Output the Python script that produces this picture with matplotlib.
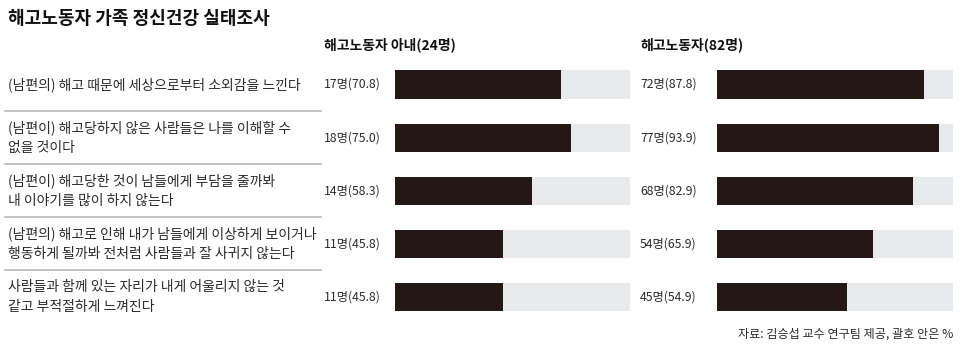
import matplotlib
matplotlib.use("Agg")
import matplotlib.pyplot as plt
from matplotlib.transforms import blended_transform_factory
from matplotlib.lines import Line2D

plt.rcParams["font.family"] = ["Noto Sans CJK KR", "DejaVu Sans"]

title = "해고노동자 가족 정신건강 실태조사"
source = "자료: 김승섭 교수 연구팀 제공, 괄호 안은 %"

questions = [
    "(남편의) 해고 때문에 세상으로부터 소외감을 느낀다",
    "(남편이) 해고당하지 않은 사람들은 나를 이해할 수\n없을 것이다",
    "(남편이) 해고당한 것이 남들에게 부담을 줄까봐\n내 이야기를 많이 하지 않는다",
    "(남편의) 해고로 인해 내가 남들에게 이상하게 보이거나\n행동하게 될까봐 전처럼 사람들과 잘 사귀지 않는다",
    "사람들과 함께 있는 자리가 내게 어울리지 않는 것\n같고 부적절하게 느껴진다",
]

wife_title = "해고노동자 아내(24명)"
wife_count = [17, 18, 14, 11, 11]
wife_pct = [70.8, 75.0, 58.3, 45.8, 45.8]

worker_title = "해고노동자(82명)"
worker_count = [72, 77, 68, 54, 45]
worker_pct = [87.8, 93.9, 82.9, 65.9, 54.9]

W, H = 970, 351
BAR = "#231815"
TRACK = "#e8e9eb"
TXT = "#2b2b2b"

fig = plt.figure(figsize=(W / 100, H / 100), dpi=100)


def fx(px):
    return px / W


def fy(py):
    return 1 - py / H


# rows: first centre ~84.5px, pitch ~53.1px
top = 84.5 - 26.55
bottom = 297.0 + 26.55


def panel(left_px, width_px, label_px, head, counts, pcts):
    ax = fig.add_axes([fx(left_px), fy(bottom), width_px / W, (bottom - top) / H])
    ys = list(range(len(pcts)))
    ax.barh(ys, [100] * len(pcts), height=0.53, color=TRACK)
    ax.barh(ys, pcts, height=0.53, color=BAR)
    ax.set_xlim(0, 100)
    ax.set_ylim(len(pcts) - 0.5, -0.5)
    ax.axis("off")
    tr = blended_transform_factory(fig.transFigure, ax.transData)
    for y, c, p in zip(ys, counts, pcts):
        ax.text(fx(label_px), y, f"{c}명({p:.1f})", transform=tr,
                ha="left", va="center", fontsize=8.8, color=TXT)
    fig.text(fx(label_px), fy(45), head, ha="left", va="center",
             fontsize=10, fontweight="bold", color="#111111")
    return ax, tr


ax1, tr1 = panel(395, 235, 324, wife_title, wife_count, wife_pct)
panel(717, 236, 640, worker_title, worker_count, worker_pct)

for i, q in enumerate(questions):
    ax1.text(fx(8), i, q, transform=tr1, ha="left", va="center",
             fontsize=10, color=TXT, linespacing=1.5)
    if i < len(questions) - 1:
        fig.add_artist(Line2D([fx(5), fx(321)], [i + 0.5, i + 0.5],
                              transform=tr1, color="#b8b8b8", lw=1.2))

fig.text(fx(8), fy(18), title, ha="left", va="center",
         fontsize=13, fontweight="bold", color="#111111")
fig.text(fx(953), fy(334), source, ha="right", va="center",
         fontsize=8.7, color=TXT)

fig.savefig("out.png", dpi=100)
